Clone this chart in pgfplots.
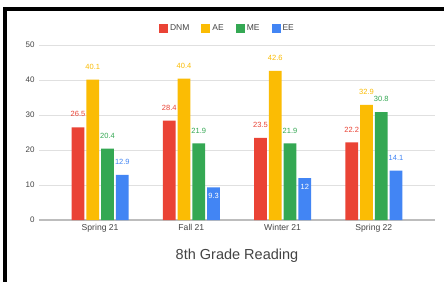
\documentclass[border=0pt]{standalone}
\usepackage{pgfplots}
\pgfplotsset{compat=1.18}
\usepackage{fontspec}
\setmainfont{Liberation Sans}
\definecolor{cDNM}{HTML}{EA4335}
\definecolor{cAE}{HTML}{FBBC04}
\definecolor{cME}{HTML}{34A853}
\definecolor{cEE}{HTML}{4285F4}
\definecolor{gridc}{HTML}{E0E0E0}
\definecolor{basec}{HTML}{BDBDBD}
\definecolor{txt}{HTML}{444444}
\begin{document}
\begin{tikzpicture}
\useasboundingbox (0,0) rectangle (444pt,282pt);
\fill[white] (0,0) rectangle (444pt,282pt);
\fill[black] (3pt,271pt) rectangle (444pt,275pt);
\fill[black] (3pt,0pt) rectangle (7pt,275pt);
\begin{axis}[
  at={(39pt,62pt)}, anchor=south west,
  scale only axis, width=396pt, height=175pt,
  xmin=-0.67, xmax=3.67, ymin=0, ymax=50,
  axis line style={draw=none},
  major tick length=0pt,
  xtick={0,1,2,3},
  xticklabels={Spring 21,Fall 21,Winter 21,Spring 22},
  ytick={10,20,30,40,50},
  extra y ticks={0},
  extra y tick style={grid style={color=basec, line width=1.3pt}},
  ymajorgrids, grid style={color=gridc, line width=0.8pt},
  /pgf/number format/assume math mode=true,
  xticklabel style={font=\fontsize{8.6}{10}\selectfont, text=txt, yshift=-1pt},
  yticklabel style={font=\fontsize{8}{10}\selectfont, text=txt, xshift=-1pt},
  legend columns=4,
  legend style={draw=none, fill=none, at={(0.476,1.097)}, anchor=center,
    font=\fontsize{8.5}{10}\selectfont, text=txt,
    /tikz/every even column/.append style={column sep=10pt}},
  legend image code/.code={\fill[#1] (0pt,-4.5pt) rectangle (9pt,4.5pt);},
  title={8th Grade Reading},
  title style={at={(0.5,-0.24)}, anchor=center, font=\fontsize{14.5}{16}\selectfont, text=txt},
  every node near coord/.append style={font=\fontsize{7.5}{9}\selectfont, inner sep=0pt, anchor=south, yshift=10pt},
]
\addplot[ybar, bar width=0.14, bar shift=0pt, fill=cDNM, draw=none,
  nodes near coords, nodes near coords style={text=cDNM}]
  coordinates {(-0.243,26.5) (0.757,28.4) (1.757,23.5) (2.757,22.2)};
\addlegendentry{DNM}
\addplot[ybar, bar width=0.14, bar shift=0pt, fill=cAE, draw=none,
  nodes near coords, nodes near coords style={text=cAE}]
  coordinates {(-0.081,40.1) (0.919,40.4) (1.919,42.6) (2.919,32.9)};
\addlegendentry{AE}
\addplot[ybar, bar width=0.14, bar shift=0pt, fill=cME, draw=none,
  nodes near coords, nodes near coords style={text=cME}]
  coordinates {(0.081,20.4) (1.081,21.9) (2.081,21.9) (3.081,30.8)};
\addlegendentry{ME}
\addplot[ybar, bar width=0.14, bar shift=0pt, fill=cEE, draw=none]
  coordinates {(0.243,12.9) (1.243,9.3) (2.243,12) (3.243,14.1)};
\addlegendentry{EE}
\addplot[ybar, bar width=0.14, bar shift=0pt, fill=none, draw=none, forget plot,
  nodes near coords, nodes near coords style={text=cEE}]
  coordinates {(0.243,12.9) (3.243,14.1)};
\addplot[ybar, bar width=0.14, bar shift=0pt, fill=none, draw=none, forget plot,
  nodes near coords, nodes near coords style={text=white, anchor=north, yshift=-16pt}]
  coordinates {(1.243,9.3) (2.243,12)};
\end{axis}
\end{tikzpicture}
\end{document}
